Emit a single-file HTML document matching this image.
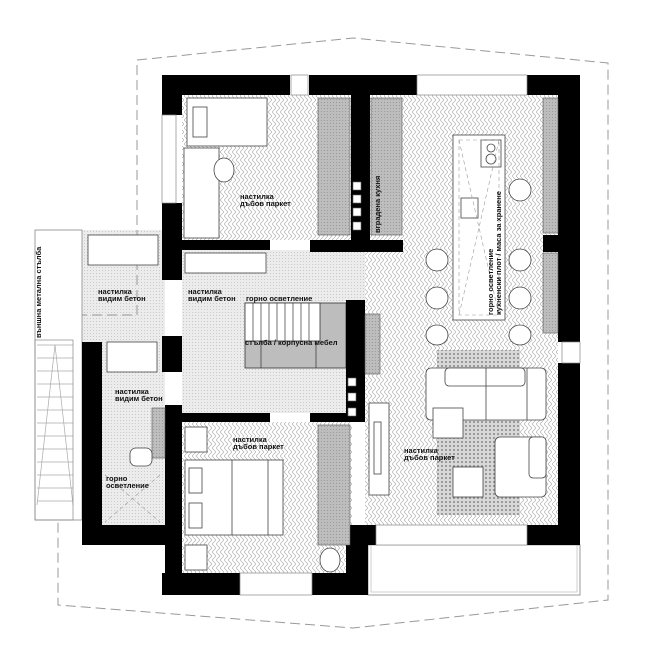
<!DOCTYPE html>
<html><head><meta charset="utf-8"><style>
html,body{margin:0;padding:0;background:#fff;width:650px;height:663px;overflow:hidden}
svg{display:block}
text{font-family:"Liberation Sans","DejaVu Sans",sans-serif;font-size:7.5px;font-weight:bold;fill:#111}
</style></head><body>
<svg width="650" height="663" viewBox="0 0 650 663" xmlns="http://www.w3.org/2000/svg">
<defs>
<pattern id="hb" width="8" height="8" patternUnits="userSpaceOnUse">
<rect width="8" height="8" fill="#fff"/>
<path d="M0 0 L4 4 L0 8 M4 0 L8 4 L4 8" stroke="#a8a8a8" stroke-width="0.6" fill="none"/>
</pattern>
<pattern id="conc" width="3" height="3" patternUnits="userSpaceOnUse">
<rect width="3" height="3" fill="#ececec"/><rect width="1" height="1" fill="#c9c9c9"/>
</pattern>
<pattern id="rug" width="4" height="4" patternUnits="userSpaceOnUse">
<rect width="4" height="4" fill="#d8d8d8"/><circle cx="2" cy="2" r="1" fill="#888"/>
</pattern>
<pattern id="cab" width="3" height="3" patternUnits="userSpaceOnUse">
<rect width="3" height="3" fill="#bdbdbd"/><rect width="1" height="1" fill="#9a9a9a"/>
</pattern>
</defs>

<path d="M137 315 L137 60 L353 38 L608 63 L608 600 L353 628 L58 605 L58 315 Z" fill="none" stroke="#999" stroke-width="1" stroke-dasharray="10,5"/>

<rect x="35" y="230" width="130" height="112" fill="url(#conc)"/>
<rect x="182" y="250" width="183" height="163" fill="url(#conc)"/>
<rect x="102" y="342" width="63" height="183" fill="url(#conc)"/>
<rect x="182" y="95" width="170" height="145" fill="url(#hb)"/>
<rect x="365" y="95" width="193" height="430" fill="url(#hb)"/>
<rect x="182" y="422" width="170" height="151" fill="url(#hb)"/>
<rect x="437" y="350" width="83" height="165" fill="url(#rug)"/>
<path d="M137 230 L137 315 L58 315" fill="none" stroke="#999" stroke-width="1" stroke-dasharray="10,5"/>

<rect x="35" y="230" width="47" height="290" fill="#fff" stroke="#888" stroke-width="0.8"/>
<g stroke="#aaa" stroke-width="0.7">
<line x1="37" y1="345" x2="73" y2="345"/><line x1="37" y1="358" x2="73" y2="358"/><line x1="37" y1="371" x2="73" y2="371"/><line x1="37" y1="384" x2="73" y2="384"/><line x1="37" y1="397" x2="73" y2="397"/><line x1="37" y1="410" x2="73" y2="410"/><line x1="37" y1="423" x2="73" y2="423"/><line x1="37" y1="436" x2="73" y2="436"/><line x1="37" y1="449" x2="73" y2="449"/><line x1="37" y1="462" x2="73" y2="462"/><line x1="37" y1="475" x2="73" y2="475"/><line x1="37" y1="488" x2="73" y2="488"/><line x1="37" y1="501" x2="73" y2="501"/>
<line x1="37" y1="505" x2="55" y2="345"/><line x1="73" y1="505" x2="55" y2="345"/>
<rect x="35" y="340" width="38" height="180" fill="none" stroke="#888"/>
</g>

<rect x="368" y="545" width="212" height="50" fill="#fff" stroke="#999" stroke-width="1"/>
<rect x="371" y="545" width="206" height="47" fill="none" stroke="#bbb" stroke-width="0.7"/>

<rect x="245" y="303" width="101" height="65" fill="#bdbdbd" stroke="#333" stroke-width="0.8"/>
<rect x="245" y="303" width="75" height="38" fill="#fff" stroke="#333" stroke-width="0.8"/>
<g stroke="#333" stroke-width="0.7">
<line x1="253" y1="303" x2="253" y2="341"/><line x1="261" y1="303" x2="261" y2="341"/><line x1="269" y1="303" x2="269" y2="341"/><line x1="277" y1="303" x2="277" y2="341"/><line x1="285" y1="303" x2="285" y2="341"/><line x1="293" y1="303" x2="293" y2="341"/><line x1="301" y1="303" x2="301" y2="341"/><line x1="309" y1="303" x2="309" y2="341"/>
<line x1="261" y1="341" x2="261" y2="368"/><line x1="316" y1="341" x2="316" y2="368"/>
</g>

<g fill="#000">
<rect x="162" y="75" width="128" height="20"/>
<rect x="309" y="75" width="108" height="20"/>
<rect x="527" y="75" width="53" height="20"/>
<rect x="162" y="75" width="20" height="40"/>
<rect x="162" y="203" width="20" height="77"/>
<rect x="182" y="240" width="88" height="10"/>
<rect x="310" y="240" width="93" height="12"/>
<rect x="351" y="95" width="19" height="157"/>
<rect x="558" y="75" width="22" height="267"/>
<rect x="543" y="235" width="15" height="17"/>
<rect x="558" y="363" width="22" height="182"/>
<rect x="527" y="525" width="53" height="20"/>
<rect x="346" y="525" width="30" height="20"/>
<rect x="346" y="300" width="19" height="118"/>
<rect x="310" y="413" width="55" height="9"/>
<rect x="182" y="413" width="88" height="9"/>
<rect x="162" y="336" width="20" height="36"/>
<rect x="165" y="405" width="17" height="190"/>
<rect x="82" y="342" width="20" height="203"/>
<rect x="82" y="525" width="100" height="20"/>
<rect x="162" y="573" width="78" height="22"/>
<rect x="312" y="573" width="56" height="22"/>
<rect x="346" y="540" width="22" height="55"/>
</g>
<g fill="#fff" stroke="#888" stroke-width="0.7">
<rect x="162" y="115" width="14" height="88"/>
<rect x="291" y="75" width="17" height="20"/>
<rect x="417" y="75" width="110" height="20"/>
<rect x="562" y="342" width="18" height="21"/>
<rect x="376" y="525" width="151" height="20"/>
<rect x="240" y="573" width="72" height="22"/>
</g>
<g fill="#fff" stroke="#666" stroke-width="0.6">
<rect x="353" y="182" width="8" height="8"/><rect x="353" y="195" width="8" height="8"/><rect x="353" y="208" width="8" height="8"/><rect x="353" y="222" width="8" height="8"/>
<rect x="348" y="378" width="8" height="8"/><rect x="348" y="393" width="8" height="8"/><rect x="348" y="408" width="8" height="8"/>
</g>

<g fill="url(#cab)" stroke="#555" stroke-width="0.6">
<rect x="318" y="98" width="32" height="137"/>
<rect x="371" y="98" width="31" height="137"/>
<rect x="543" y="98" width="15" height="135"/>
<rect x="543" y="253" width="15" height="80"/>
<rect x="318" y="425" width="32" height="120"/>
<rect x="365" y="314" width="15" height="60"/>
<rect x="152" y="408" width="13" height="50"/>
</g>

<g fill="#fff" stroke="#444" stroke-width="0.8">
<rect x="187" y="98" width="80" height="48"/>
<rect x="193" y="107" width="14" height="30"/>
<rect x="184" y="148" width="35" height="90"/>
<ellipse cx="224" cy="170" rx="10" ry="12"/>
<rect x="88" y="235" width="70" height="30"/>
<rect x="185" y="253" width="81" height="20"/>
<rect x="107" y="342" width="50" height="30"/>
<rect x="130" y="448" width="22" height="18" rx="6"/>
<rect x="185" y="427" width="22" height="25"/>
<rect x="185" y="460" width="98" height="75"/>
<rect x="189" y="468" width="13" height="25"/><rect x="189" y="503" width="13" height="25"/>
<line x1="232" y1="460" x2="232" y2="535"/><line x1="268" y1="460" x2="268" y2="535"/>
<rect x="185" y="545" width="22" height="25"/>
<ellipse cx="330" cy="560" rx="10" ry="12"/>
<rect x="453" y="135" width="52" height="185"/>
<rect x="481" y="140" width="20" height="27"/>
<circle cx="491" cy="148" r="4"/><circle cx="491" cy="159" r="5"/>
<rect x="461" y="198" width="17" height="20"/>
<ellipse cx="520" cy="190" rx="11" ry="11"/>
<ellipse cx="437" cy="260" rx="11" ry="11"/><ellipse cx="520" cy="260" rx="11" ry="11"/>
<ellipse cx="437" cy="298" rx="11" ry="11"/><ellipse cx="520" cy="298" rx="11" ry="11"/>
<ellipse cx="437" cy="335" rx="11" ry="10"/><ellipse cx="520" cy="335" rx="11" ry="10"/>
<rect x="426" y="368" width="120" height="52" rx="5"/>
<rect x="445" y="368" width="80" height="18" rx="4"/>
<line x1="486" y1="368" x2="486" y2="420"/><line x1="527" y1="368" x2="527" y2="420"/>
<rect x="433" y="408" width="30" height="30"/>
<rect x="495" y="437" width="51" height="60" rx="5"/>
<rect x="529" y="437" width="17" height="41" rx="4"/>
<rect x="453" y="467" width="30" height="30"/>
<rect x="369" y="403" width="20" height="92"/>
<rect x="374" y="422" width="7" height="52"/>
</g>
<g stroke="#999" stroke-width="0.6" stroke-dasharray="4,3" fill="none">
<rect x="459" y="140" width="40" height="175"/>
<line x1="459" y1="140" x2="499" y2="315"/><line x1="499" y1="140" x2="459" y2="315"/>
<line x1="105" y1="475" x2="160" y2="522"/><line x1="160" y1="475" x2="105" y2="522"/>
</g>

<text x="240" y="199">настилка</text><text x="240" y="206">дъбов паркет</text>
<text x="98" y="294">настилка</text><text x="98" y="301">видим бетон</text>
<text x="188" y="294">настилка</text><text x="188" y="301">видим бетон</text>
<text x="246" y="301">горно осветление</text>
<text x="245" y="345">стълба / корпусна мебел</text>
<text x="115" y="394">настилка</text><text x="115" y="401">видим бетон</text>
<text x="106" y="481">горно</text><text x="106" y="488">осветление</text>
<text x="233" y="442">настилка</text><text x="233" y="449">дъбов паркет</text>
<text x="404" y="453">настилка</text><text x="404" y="460">дъбов паркет</text>
<text transform="translate(380,233) rotate(-90)">вградена кухня</text>
<text transform="translate(493,315) rotate(-90)">горно осветление</text>
<text transform="translate(501,315) rotate(-90)">кухненски плот / маса за хранене</text>
<text transform="translate(41,338) rotate(-90)">външна метална стълба</text>
</svg>
</body></html>
